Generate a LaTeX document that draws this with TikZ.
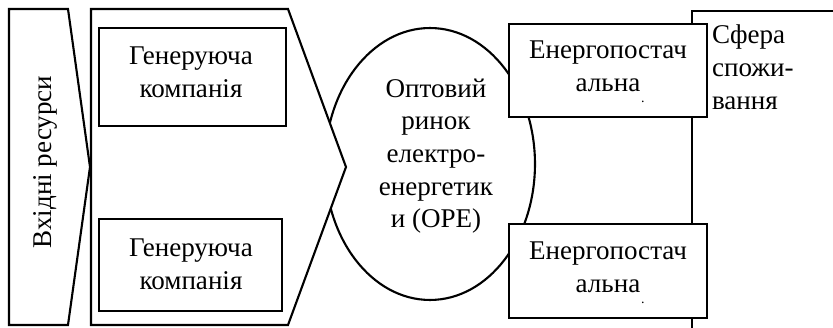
\documentclass[tikz,border=0pt]{standalone}
\usepackage{fontspec}
\setmainfont{Liberation Serif}
\usetikzlibrary{shapes.geometric}

\tikzset{
  blk/.style={draw, line width=1.2pt, fill=white, align=center, inner sep=0pt},
  lbl/.style={align=center, inner sep=0pt, font=\fontsize{15.4}{18.6}\selectfont}
}

\begin{document}
\begin{tikzpicture}[x=0.02cm, y=0.02cm, line width=1.2pt, line join=miter]
\useasboundingbox (0,0) rectangle (833,328);

% sphere of consumption
\draw (692,0) -- (692,317) -- (833,317);
\node[lbl, anchor=north west, align=left] (sphere) at (711,304) {Сфера\\спожи-\\вання};

% wholesale market
\node[blk, ellipse, minimum width=4.2cm, minimum height=5.44cm] (ore) at (430,164) {};
\node[lbl] (oretext) at (436,172) {Оптовий\\ринок\\електро-\\енергетик\\и (ОРЕ)};

% input resources
\draw[fill=white] (9,319) -- (68,319) -- (90,161) -- (68,3) -- (9,3) -- cycle;
\node[lbl, rotate=90] (res) at (45,166) {Вхідні ресурси};

% generation
\draw[fill=white] (91,319) -- (288,319) -- (346,161) -- (288,3) -- (91,3) -- cycle;
\node[blk, minimum width=3.74cm, minimum height=1.96cm] (gen1) at (192.5,251) {};
\node[lbl] (gen1text) at (191,256) {Генеруюча\\компанія};
\node[blk, minimum width=3.66cm, minimum height=1.84cm] (gen2) at (190.5,63) {};
\node[lbl] (gen2text) at (191,64) {Генеруюча\\компанія};

% suppliers
\node[blk, minimum width=3.96cm, minimum height=1.86cm] (sup1) at (608,257.5) {};
\node[lbl] (sup1text) at (608,262) {Енергопостач\\альна};
\node[inner sep=0pt, font=\fontsize{8}{8}\selectfont] (sup1dot) at (643,226) {.};
\node[blk, minimum width=3.96cm, minimum height=1.88cm] (sup2) at (608,57) {};
\node[lbl] (sup2text) at (608,61) {Енергопостач\\альна};
\node[inner sep=0pt, font=\fontsize{8}{8}\selectfont] (sup2dot) at (643,25) {.};

\end{tikzpicture}
\end{document}
